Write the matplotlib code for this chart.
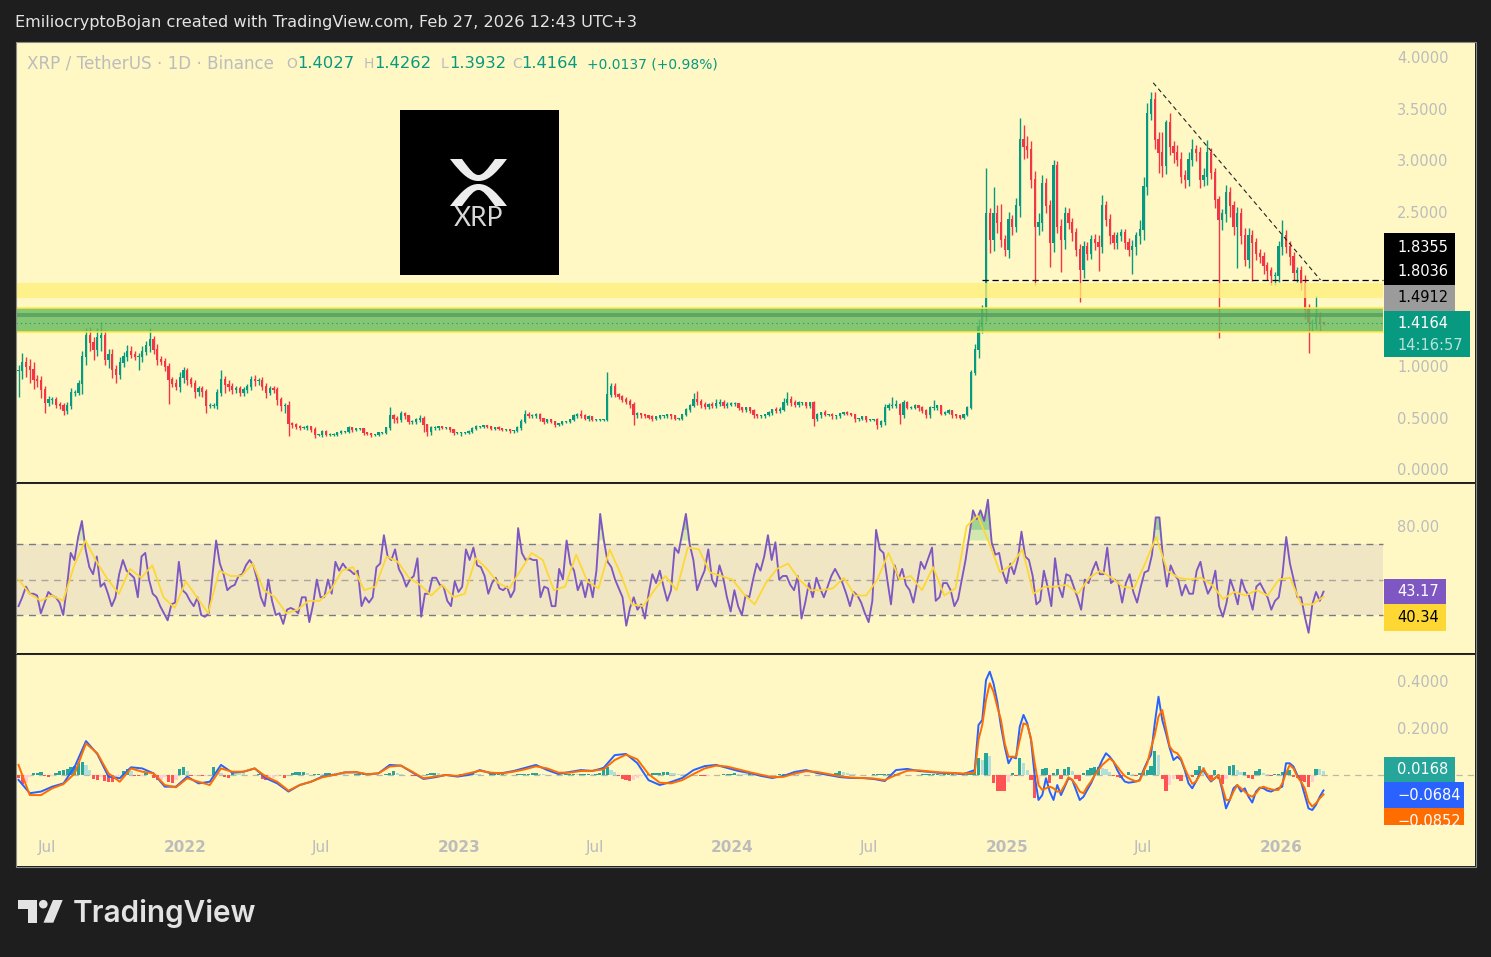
# XRP/USDT daily chart with RSI and MACD panes
import datetime as dt
import numpy as np
import matplotlib
matplotlib.use('Agg')
import matplotlib.pyplot as plt
import matplotlib.dates as mdates
from matplotlib.patches import Rectangle, Polygon, Circle, PathPatch
from matplotlib.path import Path

W, H = 1491, 957

# one candle every 5 days, the last one is Feb 27 2026
closes = [
    .95,1.03,.99,.96,.86,.85,.77,.64,.67,.67,
    .62,.61,.56,.61,.74,.74,.83,1.09,1.29,1.22,
    1.16,1.27,1.29,1.06,1.11,.96,.91,1.03,1.09,1.14,
    1.11,1.09,1.09,1.14,1.19,1.25,1.16,1.06,1.04,.99,
    .86,.83,.80,.88,.95,.86,.83,.75,.78,.75,
    .61,.61,.61,.74,.86,.82,.80,.77,.78,.74,
    .77,.80,.86,.85,.85,.80,.74,.78,.77,.67,
    .61,.61,.44,.43,.41,.40,.40,.41,.38,.33,
    .33,.36,.33,.33,.33,.35,.36,.36,.40,.38,
    .39,.39,.35,.34,.33,.33,.35,.35,.40,.51,
    .49,.48,.53,.51,.46,.46,.48,.49,.43,.36,
    .40,.40,.41,.40,.40,.38,.35,.35,.35,.35,
    .36,.39,.41,.41,.42,.41,
    .39,.40,.39,.38,.38,.37,.37,.40,.46,.52,
    .51,.51,.52,.49,.46,.48,.46,.43,.44,.46,
    .46,.48,.51,.52,.51,.49,.50,.48,.48,.48,
    .48,.72,.80,.72,.70,.67,.65,.62,.52,.53,
    .52,.51,.50,.49,.50,.51,.51,.52,.51,.49,
    .49,.52,.57,.61,.67,.65,.62,.60,.62,.61,
    .63,.64,.61,.62,.63,.63,.59,.57,.59,.56,
    .52,.51,.51,.52,.54,.57,.56,.57,.64,.67,
    .64,.62,.64,.64,.61,.64,.49,.52,.54,.52,
    .52,.51,.51,.53,.54,.53,.52,.49,.49,.50,
    .48,.48,.48,.43,.46,.59,.61,.61,.62,.52,
    .64,.59,.59,.61,.59,.56,.52,.59,.59,.61,
    .53,.54,.56,.52,.51,.50,.52,.59,.93,1.16,
    1.38,1.54,2.48,2.22,2.48,2.39,2.22,2.13,2.42,2.35,
    2.55,3.19,3.13,3.10,2.81,2.35,2.39,2.77,2.55,2.19,
    2.94,2.35,2.22,2.48,2.39,2.29,2.13,1.93,2.16,2.09,
    2.22,2.19,2.16,2.55,2.42,2.26,2.19,2.26,2.29,2.19,
    2.13,2.16,2.26,2.32,2.74,3.45,3.58,3.19,3.07,2.94,
    3.36,3.13,3.07,3.00,2.84,2.81,3.00,3.10,3.07,2.81,
    2.84,3.07,2.87,2.61,2.42,2.48,2.68,2.55,2.35,2.48,
    2.26,2.03,2.26,2.19,2.09,2.06,1.97,1.92,1.87,1.87,
    2.16,2.26,2.16,2.06,1.90,1.92,1.80,1.54,1.42,1.42,
    1.48,1.42,1.4164]

# wick lengths in cents
up_wick = [
    6,10,6,8,8,5,5,4,4,3,
    3,3,3,4,5,3,3,6,8,9,
    6,10,14,6,6,6,5,6,5,6,
    5,4,4,5,5,12,4,5,4,4,
    4,3,4,6,4,3,3,3,3,3,
    3,3,3,4,10,4,4,4,3,3,
    3,3,4,5,3,4,4,3,3,3,
    3,3,5,2,2,2,2,2,1,3,
    1,2,2,2,2,1,2,1,2,1,
    1,1,1,1,1,1,1,1,1,9,
    2,2,3,2,1,2,2,3,2,1,
    2,2,1,1,1,1,1,1,1,1,
    2,2,2,1,1,1,
    1,1,2,1,1,1,1,2,3,5,
    3,2,2,2,1,1,1,1,1,1,
    1,1,2,2,5,2,2,1,1,1,
    1,22,4,4,2,2,3,3,3,2,
    1,1,1,2,1,1,1,1,1,1,
    1,1,2,2,7,9,3,3,2,3,
    5,4,3,3,2,2,1,1,1,1,
    2,1,1,1,2,1,3,3,5,8,
    4,3,2,1,1,1,2,2,1,3,
    1,2,1,1,1,2,1,1,1,1,
    1,1,1,2,2,4,3,9,5,2,
    3,2,2,2,1,2,2,2,8,1,
    1,2,2,1,1,1,1,2,3,5,
    8,5,44,5,26,8,18,5,8,5,
    8,22,15,10,8,8,10,8,6,6,
    6,5,8,6,5,5,5,5,5,4,
    5,6,8,11,5,6,4,4,4,4,
    5,6,4,10,10,10,8,8,8,20,
    3,10,5,8,8,6,8,10,5,6,
    8,12,5,5,4,4,8,6,5,6,
    5,8,8,6,5,5,5,4,4,4,
    5,16,6,5,5,4,5,8,6,4,
    20,4,1]
down_wick = [
    25,8,10,12,8,5,8,10,3,4,
    3,3,4,3,3,3,2,10,8,7,
    10,6,12,5,8,8,7,4,4,4,
    3,3,13,5,3,5,4,5,3,4,
    23,3,3,5,4,4,3,6,4,5,
    7,2,2,3,3,8,4,4,3,3,
    3,3,3,4,3,3,5,2,3,5,
    5,7,12,3,2,2,1,2,2,3,
    1,2,1,1,1,1,1,1,1,2,
    1,1,2,1,2,1,1,1,1,2,
    4,3,2,2,2,2,2,2,7,4,
    3,2,2,1,1,2,2,1,3,1,
    1,1,1,1,1,1,
    1,1,1,1,1,2,2,1,2,1,
    1,1,1,2,2,1,1,2,1,1,
    1,1,1,1,1,1,2,1,1,1,
    1,1,2,2,2,2,2,3,9,2,
    2,1,1,2,1,1,1,1,2,1,
    1,1,1,2,1,3,3,2,2,2,
    2,2,2,2,1,2,2,2,2,2,
    2,1,1,1,1,2,2,2,1,2,
    3,2,2,2,2,2,7,2,2,1,
    1,2,2,1,1,1,1,3,2,1,
    2,1,1,4,2,3,2,2,2,8,
    2,1,1,1,3,2,2,2,2,2,
    1,1,1,2,1,1,1,1,1,2,
    8,6,10,12,10,10,6,6,8,8,
    5,10,12,8,8,56,8,8,6,23,
    8,6,31,8,6,8,6,31,8,6,
    5,6,24,6,6,8,5,5,5,5,
    6,24,8,8,10,8,6,8,20,10,
    8,8,10,6,6,8,6,6,8,8,
    6,8,5,8,115,10,8,10,8,40,
    8,6,8,36,6,6,8,8,8,8,
    5,8,6,8,6,8,6,8,29,8,
    6,8,2]

rsi = [
    35,40,46,42,42,41,31,37,43,41,
    40,37,30,46,65,61,74,83,67,57,
    53,63,46,48,42,35,40,53,61,55,
    53,51,40,63,65,50,42,40,35,31,
    27,36,37,60,44,42,38,35,40,30,
    29,31,52,72,59,53,44,46,47,52,
    53,58,61,58,50,40,35,50,38,30,
    31,25,33,34,33,31,40,40,26,36,
    50,40,40,50,42,60,55,59,56,55,
    53,55,35,40,37,40,57,59,75,63,
    61,67,56,52,46,50,52,62,29,42,
    42,51,51,47,46,38,35,49,43,46,
    67,61,68,58,57,52,42,
    48,51,45,44,46,40,44,79,65,61,
    62,61,61,40,46,45,35,35,56,50,
    72,59,55,44,49,40,50,40,55,87,
    72,60,57,50,45,40,24,34,40,33,
    36,28,42,53,48,55,46,38,44,68,
    65,76,87,70,61,44,50,55,67,50,
    46,58,51,40,32,44,35,30,41,40,50,59,
    55,63,75,61,71,50,52,52,47,44,52,
    28,37,48,40,51,45,40,46,52,56,52,48,42,35,
    43,41,37,31,26,38,78,67,65,50,36,58,50,
    56,47,44,37,48,60,56,62,68,38,40,48,
    48,44,35,39,50,61,75,89,84,
    89,83,95,71,64,65,54,48,59,53,
    61,77,63,61,52,36,38,55,46,35,
    62,46,40,53,52,46,40,33,50,48,
    55,60,53,53,68,48,50,48,37,48,
    53,43,37,46,54,55,64,85,85,61,
    46,58,53,50,41,47,42,42,55,60,
    49,42,46,55,35,29,37,50,44,36,
    50,44,41,33,46,48,44,40,33,38,
    40,53,74,59,50,40,40,29,20,36,
    43,38,43.17]

# the slower line is kept every 15 days
rsi_ma = [
    50,42,38,41,38,58,72,60,50,42,56,51,58,40,34,49,40,31,55,52,52,59,
    44,40,31,33,38,38,44,55,57,44,46,63,60,51,47,41,47,40,42,62,56,
    48,45,55,65,61,44,46,64,49,45,67,53,36,35,44,52,44,68,67,54,52,50,
    42,36,48,56,59,50,44,44,45,51,41,41,50,65,50,52,44,57,41,45,80,
    86,71,54,58,67,42,46,46,47,42,51,55,51,46,45,59,74,55,51,50,51,47,
    39,43,41,44,41,50,51,36,36,40.34]

# MACD: every 15 days up to the Nov 2024 run, every 5 days after it
macd_early = [
    -.023,-.080,-.073,-.052,-.038,.034,.143,.088,-.009,-.016,.031,.026,.005,-.052,-.052,
    -.009,-.038,-.031,.041,.008,.012,.026,-.016,-.038,-.073,-.045,-.031,-.009,-.002,.009,
    .009,.001,.005,.041,.038,.009,-.019,-.012,-.002,-.009,-.002,.019,.005,
    .006,.015,.028,.041,.019,.002,.011,.019,.015,.028,.083,.088,.049,-.024,-.045,-.032,
    -.015,.019,.036,.041,.028,.015,.006,-.006,-.015,-.006,.011,.019,.006,-.002,-.011,-.015,
    -.015,-.019,-.028,.019,.024,.015,.011,.006,.006,.002,.019]
signal_early = [
    .041,-.088,-.088,-.059,-.041,.005,.133,.091,.005,-.031,.026,.012,.005,-.045,-.055,
    -.016,-.031,-.045,.026,.012,.012,.026,-.009,-.031,-.069,-.045,-.031,-.012,-.002,.009,
    .011,.001,.005,.034,.038,.012,-.016,-.009,-.002,-.006,.005,.016,.008,
    .005,.012,.022,.035,.026,.008,.008,.015,.016,.022,.062,.085,.065,.002,-.035,-.038,
    -.024,.002,.026,.038,.034,.022,.010,-.001,-.011,-.010,.004,.014,.011,.002,-.007,-.013,
    -.015,-.017,-.024,-.002,.016,.018,.013,.009,.007,.004,.008]
# thousandths
macd_late = [
    212,233,404,440,390,312,205,119,48,76,69,205,255,219,148,-9,-109,-88,-16,-73,
    -109,-45,-88,-52,-16,-23,-66,-109,-95,-66,-38,-2,26,62,91,76,55,19,-9,-30,
    -35,-33,-30,-23,19,55,84,219,333,233,176,112,62,76,62,19,-38,-59,-30,5,
    19,-9,-30,-16,-2,-66,-145,-109,-59,-45,-73,-59,-95,-120,-73,-56,-59,-69,-73,-66,
    -59,-52,48,48,34,-2,-30,-88,-145,-152,-130,-95,-68]
signal_late = [
    148,212,319,390,354,290,233,133,76,76,76,148,219,212,155,48,-45,-66,-59,-52,
    -59,-73,-73,-45,-12,-23,-45,-73,-80,-52,-30,-2,19,41,55,69,55,34,12,-6,
    -16,-23,-30,-26,12,48,112,169,248,276,197,119,98,91,69,26,-9,-40,-30,-2,
    26,-2,-26,-16,-2,-52,-109,-109,-73,-45,-59,-73,-88,-95,-80,-59,-52,-59,-63,-66,
    -66,-38,5,41,26,-9,-30,-59,-116,-137,-123,-102,-85]

# histogram in thousandths, same 5 day spacing as the candles
hist = [
    -14,-40,-35,-12,8,8,10,-8,-12,-5,
    8,14,18,24,32,36,50,55,40,20,
    -18,-24,-10,-28,-30,-32,-14,-8,16,22,
    14,-6,-8,-6,6,-2,-15,-25,-22,-10,
    -30,-35,-25,22,30,14,-7,-5,-4,-7,
    -6,-3,34,20,8,-12,-14,10,8,7,
    6,-3,-4,-2,4,-18,-22,-20,-15,-8,
    -2,-14,-4,8,10,12,12,8,-3,3,
    4,2,6,7,6,5,3,2,-3,-2,
    2,3,4,4,2,-2,-3,-2,3,7,
    14,8,4,-2,-4,-6,-7,-3,-2,3,
    5,7,5,2,3,2,-2,-1,2,3,
    5,6,4,2,-2,-2,
    2,3,4,6,3,-2,-3,2,2,3,
    4,5,6,4,2,-2,-3,-4,-3,-2,
    2,3,4,2,2,3,3,2,2,6,
    30,30,20,10,-5,-20,-25,-28,-22,-15,
    -8,-4,2,5,6,8,10,12,8,6,
    4,3,2,-2,-3,-4,-5,-6,-5,-3,
    -2,-2,2,3,4,5,4,3,2,2,
    -2,-3,-4,-3,-2,-2,-1,2,3,4,
    3,2,1,-2,-3,-2,-3,-2,-2,-3,
    -4,-4,8,14,12,8,4,2,-2,-3,
    -2,-1,2,2,2,3,3,2,2,1,
    -1,-2,-2,-2,-1,1,1,1,1,2,
    1,1,1,2,1,2,3,3,8,15,
    70,60,90,80,-35,-70,-70,-70,-30,6,
    -6,70,50,20,-25,-100,-40,25,28,-35,
    5,25,-20,25,30,15,-20,-28,5,20,
    28,30,30,28,24,12,-6,-12,-14,-8,
    10,3,-6,6,14,20,35,100,85,-20,
    -70,-45,-20,-20,-28,-10,-8,-10,20,35,
    30,8,-20,20,-20,-40,-20,35,40,20,
    10,10,-15,-20,15,22,7,3,-6,3,
    4,10,15,20,-10,-14,-28,-32,-55,-30,
    25,24,17]

tick_dates = ['2021-07-01','2022-01-01','2022-07-01','2023-01-01','2023-07-01',
              '2024-01-01','2024-07-01','2025-01-01','2025-07-01','2026-01-01']
tick_labels = ['Jul','2022','Jul','2023','Jul','2024','Jul','2025','Jul','2026']
# 1.5 and 2.0 sit under the price tags in the screenshot, so they are left out
price_ticks = [0,.5,1,2.5,3,3.5,4]
rsi_ticks = [80]
macd_ticks = [.2,.4]

BG = '#FFF8C4'
DARK = '#1E1E1E'
GREEN = '#089981'
RED = '#F23645'
AXIS_TXT = '#BCBCBC'

last = dt.date(2026, 2, 27)
days = np.array([mdates.date2num(last - dt.timedelta(days=5*(len(closes)-1-i))) for i in range(len(closes))])
x_left = mdates.date2num(dt.date(2021, 7, 1)) - 31/0.75
x_right = x_left + 1459/0.75
x_end = x_left + 1367/0.75   # where the drawings stop, the scale starts here

plt.rcParams['font.family'] = ['DejaVu Sans']
fig = plt.figure(figsize=(W/100, H/100), dpi=100, facecolor=DARK)


def pane(top, bottom, y_top, y_bottom, ticks, fmt):
    ax = fig.add_axes([16/W, 1-bottom/H, 1459/W, (bottom-top)/H], facecolor=BG)
    ax.set_xlim(x_left, x_right)
    ax.set_ylim(y_bottom, y_top)
    ax.yaxis.tick_right()
    ax.set_yticks(ticks)
    ax.set_yticklabels([fmt % t for t in ticks])
    ax.tick_params(axis='y', length=0, pad=-56, labelsize=10.5, labelcolor=AXIS_TXT)
    for lab in ax.get_yticklabels():
        lab.set_ha('left')
    ax.set_xticks([])
    for s in ax.spines.values():
        s.set_visible(False)
    return ax


# price pane
ax1 = pane(42, 482, 4.146, -0.126, price_ticks, '%.4f')
closes = np.array(closes)
opens = np.r_[closes[0], closes[:-1]]
highs = np.maximum(opens, closes) + np.array(up_wick)/100
lows = np.minimum(opens, closes) - np.array(down_wick)/100
cols = [GREEN if c >= o else RED for o, c in zip(opens, closes)]
ax1.vlines(days, lows, highs, colors=cols, lw=1.0, zorder=2)
ax1.bar(days, np.abs(closes-opens)+0.01, bottom=np.minimum(opens, closes), width=3.2, color=cols, zorder=3)

ax1.fill_between([x_left, x_end], 1.663, 1.803, color='#FFEF77', alpha=0.75, lw=0, zorder=4)
ax1.fill_between([x_left, x_end], 1.333, 1.56, color='#69BB5F', alpha=0.82, lw=0, zorder=4)
ax1.fill_between([x_left, x_end], 1.478, 1.512, color='#4F9A5C', alpha=0.7, lw=0, zorder=4)
ax1.plot([x_left, x_end], [1.56, 1.56], color='#FFEB3B', lw=1.1, zorder=5)
ax1.plot([x_left, x_end], [1.333, 1.333], color='#FFEB3B', lw=1.1, zorder=5)
ax1.plot([x_left, x_end], [1.4164, 1.4164], color='#089981', lw=0.8, ls=(0, (1, 3)), zorder=5)
ax1.plot([mdates.date2num(dt.date(2024, 11, 28)), x_end], [1.8355, 1.8355], color='black', lw=0.9, ls=(0, (5, 3)), zorder=5)
ax1.plot([mdates.date2num(dt.date(2025, 7, 15)), mdates.date2num(dt.date(2026, 2, 23))], [3.75, 1.8355],
         color='#222222', lw=0.8, ls=(0, (4, 3)), zorder=5)

# RSI pane
ax2 = pane(483, 653, 104.4, 8.6, rsi_ticks, '%.2f')
rsi_x = np.linspace(days[0], days[-1], len(rsi))
ma_x = np.linspace(days[0], days[-1], len(rsi_ma))
rsi = np.array(rsi, dtype=float)
ax2.fill_between([x_left, x_end], 30, 70, color='#F1E6C4', lw=0, zorder=1)
ax2.plot([x_left, x_end], [70, 70], color='#787B86', lw=1, ls=(0, (5, 4)), zorder=2)
ax2.plot([x_left, x_end], [50, 50], color='#787B86', alpha=0.6, lw=1, ls=(0, (5, 4)), zorder=2)
ax2.plot([x_left, x_end], [30, 30], color='#787B86', lw=1, ls=(0, (5, 4)), zorder=2)
ax2.fill_between(rsi_x, 72, rsi, where=rsi > 72, color='#A9D8A0', alpha=0.5, lw=0, zorder=2, interpolate=True)
ax2.fill_between(rsi_x, 78, rsi, where=rsi > 78, color='#6CC07A', alpha=0.5, lw=0, zorder=2, interpolate=True)
ax2.plot(rsi_x, rsi, color='#7E57C2', lw=1.35, zorder=3)
ax2.plot(ma_x, rsi_ma, color='#FDD835', lw=1.3, zorder=4)

# MACD pane, runs down to the frame because the date labels sit in it
ax3 = pane(654, 866, .5155, -.3914, macd_ticks, '%.4f')
ax3.axhline(0, color='#787B86', alpha=0.5, lw=0.9, ls=(0, (5, 4)), zorder=1)
hist = np.array(hist)/1000
prev = np.r_[0, hist[:-1]]
hist_cols = []
for h, p in zip(hist, prev):
    if h >= 0:
        hist_cols.append('#26A69A' if h >= p else '#B2DFDB')
    else:
        hist_cols.append('#FF5252' if h <= p else '#FFCDD2')
ax3.bar(days, hist, width=4.6, color=hist_cols, zorder=2)
macd_x = np.r_[np.linspace(days[0], days[255], len(macd_early)), days[-len(macd_late):]]
macd_line = np.r_[macd_early, np.array(macd_late)/1000]
signal_line = np.r_[signal_early, np.array(signal_late)/1000]
ax3.plot(macd_x, macd_line, color='#2962FF', lw=1.4, zorder=3)
ax3.plot(macd_x, signal_line, color='#FF6D00', lw=1.4, zorder=4)
ax3.set_xticks([mdates.date2num(dt.date.fromisoformat(d)) for d in tick_dates])
ax3.set_xticklabels(tick_labels)
ax3.tick_params(axis='x', length=0, pad=-18.7, labelsize=11, labelcolor=AXIS_TXT)
for lab in ax3.get_xticklabels():
    if lab.get_text() != 'Jul':
        lab.set_fontweight('bold')

# everything in screen pixels goes on an overlay
ov = fig.add_axes([0, 0, 1, 1], zorder=10)
ov.set_xlim(0, W)
ov.set_ylim(H, 0)
ov.axis('off')
ov.patch.set_alpha(0)

ov.add_patch(Rectangle((15.5, 41.5), 1460, 825, fill=False, ec='#8A8A8A', lw=0.8))
ov.plot([16, 1475], [482.5, 482.5], color='#2A2A2A', lw=0.75)
ov.plot([16, 1475], [653.5, 653.5], color='#2A2A2A', lw=0.75)

ov.text(15, 23, 'EmiliocryptoBojan created with TradingView.com, Feb 27, 2026 12:43 UTC+3',
        color='#E4E4E4', fontsize=11.65, va='center')

ov.text(27, 64, 'XRP / TetherUS · 1D · Binance', color=AXIS_TXT, fontsize=12.1, va='center')
legend_parts = [(286, 'O', AXIS_TXT, 10), (297, '1.4027', GREEN, 11.8), (364, 'H', AXIS_TXT, 10),
                (374, '1.4262', GREEN, 11.8), (441, 'L', AXIS_TXT, 10), (449, '1.3932', GREEN, 11.8),
                (512, 'C', AXIS_TXT, 10), (521, '1.4164', GREEN, 11.8), (587, '+0.0137 (+0.98%)', GREEN, 10)]
for px, txt, col, size in legend_parts:
    ov.text(px, 64, txt, color=col, fontsize=size, va='center')


def tag(x0, x1, y0, y1, col, lines):
    ov.add_patch(Rectangle((x0, y0), x1-x0, y1-y0, fc=col, ec='none', zorder=2))
    for py, txt, tc in lines:
        ov.text(1397, py, txt, color=tc, fontsize=10.5, va='center', zorder=3)


tag(1384, 1455, 233, 285, 'black', [(247, '1.8355', 'white'), (272, '1.8036', 'white')])
tag(1384, 1455, 285, 311, '#9B9B9B', [(297, '1.4912', 'black')])
tag(1384, 1470, 311, 357, '#089981', [(323, '1.4164', 'white'), (345, '14:16:57', '#B5E3DA')])
tag(1384, 1446, 579, 604, '#7E57C2', [(592, '43.17', 'white')])
tag(1384, 1446, 604, 631, '#FDD835', [(617, '40.34', 'black')])
tag(1384, 1455, 757, 782, '#26A69A', [(770, '0.0168', 'white')])
tag(1384, 1464, 782, 808, '#2962FF', [(795, '−0.0684', 'white')])
ov.add_patch(Rectangle((1384, 808), 80, 17, fc='#FF6D00', ec='none', zorder=2))
cut = Rectangle((1384, 808), 80, 17, transform=ov.transData)
t = ov.text(1397, 821, '−0.0852', color='white', fontsize=10.5, va='center', zorder=3)
t.set_clip_path(cut)

# XRP logo
ov.add_patch(Rectangle((400, 110), 159, 165, fc='black', ec='none'))
curve_codes = [Path.MOVETO, Path.CURVE4, Path.CURVE4, Path.CURVE4, Path.CURVE4, Path.CURVE4, Path.CURVE4,
               Path.LINETO, Path.CURVE4, Path.CURVE4, Path.CURVE4, Path.CURVE4, Path.CURVE4, Path.CURVE4,
               Path.CLOSEPOLY]
top_curve = [(462, 159), (470, 170), (474, 175), (478.5, 175), (483, 175), (487, 170), (495, 159),
             (507, 159), (494, 176), (487, 181), (478.5, 181), (470, 181), (463, 176), (450, 159), (462, 159)]
bottom_curve = [(px, 365-py) for px, py in top_curve]
ov.add_patch(PathPatch(Path(top_curve, curve_codes), fc='#EDEDED', ec='none'))
ov.add_patch(PathPatch(Path(bottom_curve, curve_codes), fc='#EDEDED', ec='none'))
ov.text(478.5, 218, 'XRP', color='#D8D8D8', fontsize=19, family='Lato', fontweight='normal', ha='center', va='center')

# TradingView mark and wordmark
MARK = '#E3E3E3'
ov.add_patch(Rectangle((18.3, 900), 19, 8.5, fc=MARK, ec='none'))
ov.add_patch(Rectangle((28.3, 900), 9, 22.7, fc=MARK, ec='none'))
ov.add_patch(Circle((43.3, 904.2), 4.3, fc=MARK, ec='none'))
ov.add_patch(Polygon([(53, 900), (62.7, 900), (53.3, 922.7), (43.5, 922.7)], fc=MARK, ec='none'))
ov.text(73, 913, 'TradingView', color=MARK, fontsize=21.4, family='Inter', fontweight='semibold', va='center')

fig.savefig('out.png', dpi=100, facecolor=DARK)
